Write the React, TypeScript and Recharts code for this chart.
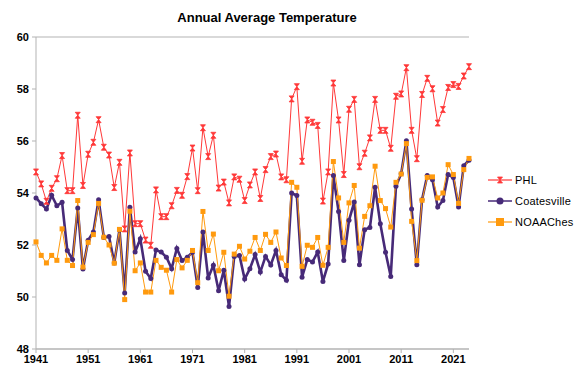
import { LineChart, Line, CartesianGrid, XAxis, YAxis } from 'recharts';

const startYear = 1941;

const phl = [
  54.81, 54.35, 53.68, 54.18, 54.55, 55.44, 54.09, 54.09, 56.99, 54.29,
  55.49, 55.95, 56.82, 55.76, 55.46, 54.21, 55.18, 52.62, 55.54, 52.82,
  52.82, 52.19, 51.99, 54.12, 53.09, 53.09, 53.51, 54.1, 53.91, 54.63,
  55.73, 54.09, 56.51, 55.4, 56.22, 54.19, 54.42, 53.62, 54.62, 54.53,
  53.71, 54.31, 54.81, 53.79, 54.9, 55.4, 55.5, 54.62, 54.51, 57.62,
  58.09, 55.22, 56.81, 56.72, 56.6, 53.69, 54.81, 58.23, 56.81, 54.71,
  57.22, 57.6, 55.01, 55.53, 56.12, 57.6, 56.41, 56.41, 55.72, 57.72,
  57.81, 58.82, 56.41, 55.32, 57.79, 58.41, 58.01, 56.69, 57.21, 58.06,
  58.17, 58.1, 58.5, 58.86,
];

const coatesville = [
  53.81, 53.59, 53.38, 53.91, 53.51, 53.64, 51.79, 51.44, 53.42, 51.08,
  52.18, 52.5, 53.74, 52.29, 52.33, 51.31, 52.58, 50.15, 53.45, 51.73,
  52.24, 50.99, 50.71, 51.81, 51.73, 51.53, 51.09, 51.87, 51.4, 51.53,
  51.72, 50.37, 52.5, 50.73, 51.22, 50.24, 51.03, 49.63, 51.56, 51.6,
  50.69, 51.09, 51.63, 50.96, 51.56, 51.23, 51.79, 50.86, 50.64, 54.0,
  53.9, 50.76, 51.44, 51.35, 51.73, 50.6, 51.27, 54.67, 53.29, 51.4,
  52.95, 53.65, 51.24, 52.59, 52.67, 54.22, 52.82, 51.72, 50.79, 54.26,
  54.74, 56.01, 53.38, 51.24, 53.74, 54.67, 54.51, 53.46, 53.71, 54.71,
  54.6, 53.46, 55.05, 55.26,
];

const noaaChes = [
  52.12, 51.6, 51.31, 51.6, 51.41, 52.62, 51.41, 51.21, 53.71, 51.15,
  52.1, 52.4, 53.6, 52.3, 52.0, 51.3, 52.6, 49.9, 53.3, 51.01,
  51.31, 50.19, 50.19, 51.41, 51.14, 51.03, 50.19, 51.44, 51.12, 51.41,
  51.79, 50.55, 53.29, 51.79, 52.42, 51.01, 51.72, 50.03, 51.65, 51.95,
  51.46, 51.76, 52.29, 51.79, 52.41, 52.1, 52.5, 51.5, 51.21, 54.41,
  54.22, 51.18, 51.99, 51.91, 52.29, 51.22, 51.91, 55.21, 53.81, 52.1,
  53.62, 54.29, 51.88, 53.1, 53.51, 55.03, 53.71, 53.4, 52.69, 54.41,
  54.73, 55.9, 52.91, 51.4, 53.72, 54.6, 54.62, 53.81, 54.0, 55.09,
  54.71, 53.6, 54.9, 55.33,
];

const xTicks = [1941, 1951, 1961, 1971, 1981, 1991, 2001, 2011, 2021];
const yTicks = [48, 50, 52, 54, 56, 58, 60];

const data = phl.map((v, i) => ({
  year: startYear + i,
  phl: v,
  coatesville: coatesville[i],
  noaa: noaaChes[i],
}));

const RED = '#ff3838';
const PURPLE = '#472a78';
const ORANGE = '#ff9a0e';
const GRID = '#b3b3b3';
const FONT = '"Liberation Sans", Arial, sans-serif';

const PhlDot = (props: any) => {
  const { cx, cy } = props;
  if (cx == null || cy == null) return null;
  return (
    <path
      d={`M${cx - 2.5},${cy - 3} L${cx + 2.5},${cy - 3} L${cx},${cy} L${cx + 2.5},${cy + 3} L${cx - 2.5},${cy + 3} L${cx},${cy} Z`}
      fill={RED}
      stroke={RED}
      strokeWidth={0.8}
    />
  );
};

const CoatDot = (props: any) => {
  const { cx, cy } = props;
  if (cx == null || cy == null) return null;
  return <circle cx={cx} cy={cy} r={2.5} fill={PURPLE} />;
};

const NoaaDot = (props: any) => {
  const { cx, cy } = props;
  if (cx == null || cy == null) return null;
  return <rect x={cx - 2.5} y={cy - 2.5} width={5} height={5} fill={ORANGE} />;
};

const legendItems = [
  { name: 'PHL', color: RED, kind: 'phl' },
  { name: 'Coatesville', color: PURPLE, kind: 'coat' },
  { name: 'NOAAChes', color: ORANGE, kind: 'noaa' },
];

function LegendMark({ kind, color }: { kind: string; color: string }) {
  return (
    <svg width={24} height={10} style={{ display: 'block' }}>
      <line x1={0} y1={5} x2={24} y2={5} stroke={color} strokeWidth={kind === 'coat' ? 1.5 : 1.2} />
      {kind === 'phl' && <PhlDot cx={12} cy={5} />}
      {kind === 'coat' && <circle cx={12} cy={5} r={3.5} fill={PURPLE} />}
      {kind === 'noaa' && <rect x={8} y={1} width={8} height={8} fill={ORANGE} />}
    </svg>
  );
}

const tickStyle = { fontSize: 11, fontWeight: 'bold' as const, fill: '#000', fontFamily: FONT };

export default function App() {
  return (
    <div style={{ position: 'relative', width: 575, height: 365, fontFamily: FONT }}>
      <div
        style={{
          position: 'absolute',
          left: 0,
          top: 2,
          width: 518,
          textAlign: 'center',
          fontSize: 13,
          fontWeight: 'bold',
          lineHeight: '16px',
        }}
      >
        Annual Average Temperature
      </div>
      <LineChart
        width={575}
        height={365}
        data={data}
        margin={{ top: 29, right: 114, left: 0, bottom: 0 }}
      >
        <CartesianGrid vertical={false} stroke={GRID} />
        <XAxis
          dataKey="year"
          type="number"
          domain={[1941, 2024]}
          ticks={xTicks}
          interval={0}
          height={24}
          stroke={GRID}
          tickSize={4}
          tick={tickStyle}
        />
        <YAxis
          yAxisId="left"
          domain={[48, 60]}
          ticks={yTicks}
          interval={0}
          width={28}
          stroke={GRID}
          tickSize={4}
          tickMargin={3}
          tick={tickStyle}
        />
        <YAxis yAxisId="right" orientation="right" domain={[48, 60]} width={0} tick={false} stroke={GRID} />
        <Line
          yAxisId="left"
          dataKey="phl"
          stroke={RED}
          strokeWidth={1}
          dot={<PhlDot />}
          activeDot={false}
          isAnimationActive={false}
        />
        <Line
          yAxisId="left"
          dataKey="coatesville"
          stroke={PURPLE}
          strokeWidth={2.6}
          dot={<CoatDot />}
          activeDot={false}
          isAnimationActive={false}
        />
        <Line
          yAxisId="left"
          dataKey="noaa"
          stroke={ORANGE}
          strokeWidth={1}
          dot={<NoaaDot />}
          activeDot={false}
          isAnimationActive={false}
        />
      </LineChart>
      <div style={{ position: 'absolute', left: 480, top: 161 }}>
        {legendItems.map((it) => (
          <div key={it.name} style={{ display: 'flex', alignItems: 'center', height: 21, whiteSpace: 'nowrap' }}>
            <LegendMark kind={it.kind} color={it.color} />
            <span style={{ marginLeft: 3, fontSize: 11, letterSpacing: 0.2, color: '#000' }}>{it.name}</span>
          </div>
        ))}
      </div>
    </div>
  );
}
